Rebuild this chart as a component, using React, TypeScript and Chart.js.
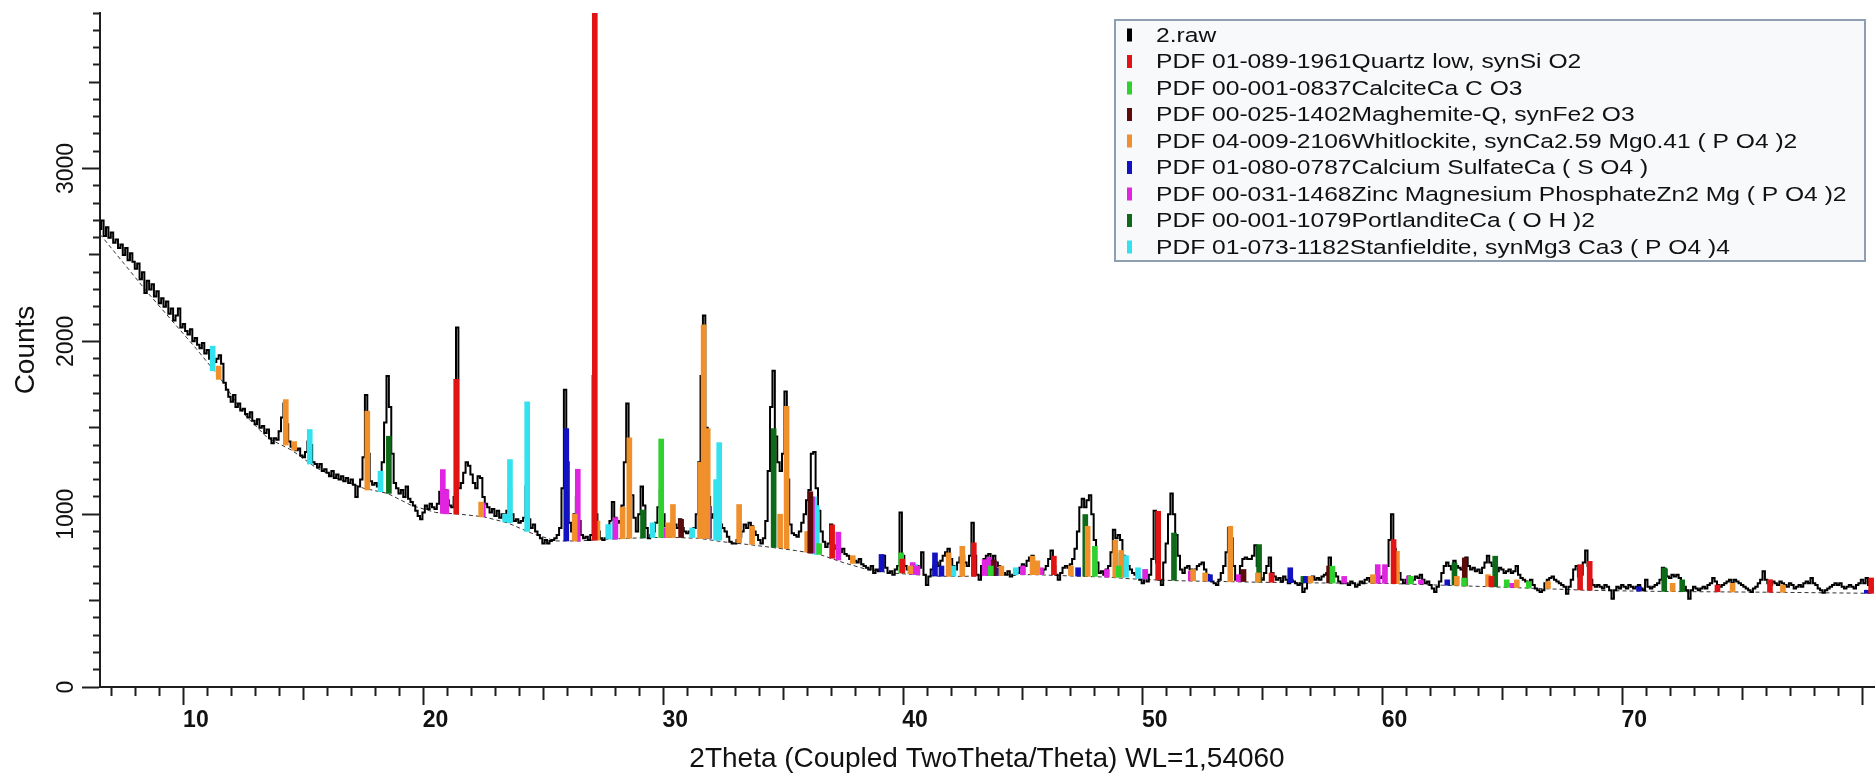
import React, { useEffect, useRef } from 'react';
import { Chart, registerables } from 'chart.js';

Chart.register(...registerables);

const FONT = '"Liberation Sans", Arial, Helvetica, sans-serif';

// ---- Measured pattern "2.raw" (counts), sampled every 0.1 deg 2Theta ----
const RAW_STEP = 0.1;
const RAW_06_20 = [
  2650, 2700, 2610, 2660, 2600, 2630, 2570, 2590, 2540, 2560,
  2500, 2540, 2470, 2510, 2460, 2420, 2450, 2360, 2400, 2280,
  2350, 2300, 2330, 2260, 2290, 2220, 2250, 2200, 2230, 2160,
  2190, 2120, 2150, 2190, 2080, 2100, 2060, 2040, 2070, 2000,
  2020, 1980, 1960, 1990, 1930, 1950, 1900, 1940, 1880, 1900,
  1920, 1870, 1760, 1720, 1680, 1650, 1690, 1620, 1640, 1600,
  1610, 1580, 1560, 1590, 1540, 1520, 1550, 1500, 1510, 1470,
  1490, 1440, 1410, 1440, 1430, 1480, 1560, 1640, 1520, 1420,
  1390, 1410, 1370, 1380, 1340, 1330, 1360, 1420, 1400, 1300,
  1290, 1270, 1290, 1250, 1260, 1240, 1220, 1250, 1210, 1230,
  1200, 1220, 1190, 1210, 1180, 1200, 1170, 1100, 1160, 1200,
  1330, 1690, 1350, 1190, 1170, 1180, 1160, 1200, 1300, 1530,
  1800, 1620, 1350, 1180, 1150, 1120, 1140, 1100, 1160, 1090,
  1070, 1050, 1020, 990, 970, 1010, 1050, 1030, 1060, 1040,
];
const RAW_20_30 = [
  1030, 1060, 1130, 1250, 1140, 1080, 1050, 1040, 1100, 2080,
  1150, 1180, 1240, 1300, 1280, 1230, 1180, 1150, 1220, 1210,
  1100, 1060, 1040, 1010, 1030, 990, 1020, 980, 1000, 960,
  1020, 1150, 1000, 960, 970, 950, 960, 980, 1160, 970,
  920, 940, 900, 880, 860, 830, 850, 830, 845, 850,
  860, 880, 920, 1150, 1720, 1300, 950, 900, 1000, 1100,
  960, 880, 860, 870, 850, 880, 1800, 1000, 900, 860,
  850, 860, 880, 960, 1070, 980, 950, 960, 1050, 1300,
  1640, 1380, 1110, 980, 900, 1000, 1160, 1050, 920, 860,
  880, 900, 950, 1040, 1140, 1000, 930, 920, 940, 960,
];
const RAW_30_40 = [
  940, 920, 970, 920, 900, 890, 900, 880, 920, 1000,
  1300, 1800, 2150, 1500, 1100, 980, 1000, 960, 1010, 940,
  920, 900, 870, 840, 830, 830, 850, 870, 900, 940,
  920, 950, 930, 900, 880, 850, 830, 860, 960, 1250,
  1620, 1830, 1450, 1300, 1250, 1350, 1710, 1200, 940, 890,
  880, 870, 900, 950, 1000, 1080, 1140, 1350, 1360, 1150,
  1020, 900, 840, 810, 830, 940, 820, 800, 790, 780,
  800, 770, 760, 740, 750, 730, 720, 740, 710, 700,
  690, 680, 700, 660, 680, 670, 700, 760, 690, 660,
  670, 650, 680, 700, 1010, 760, 700, 680, 660, 690,
];
const RAW_40_50 = [
  670, 700, 690, 780, 650, 590, 640, 680, 700, 720,
  700, 730, 760, 780, 800, 740, 700, 680, 720, 750,
  760, 720, 700, 760, 950, 760, 650, 620, 700, 740,
  760, 770, 740, 760, 720, 700, 680, 660, 650, 670,
  640, 650, 680, 660, 690, 710, 700, 730, 750, 760,
  720, 700, 680, 660, 680, 700, 740, 790, 700, 650,
  620, 660, 690, 700, 690, 710, 740, 800, 900, 1040,
  1090, 1040, 1080, 1110, 1000, 850, 720, 660, 670, 650,
  680, 700, 780, 910, 860, 880, 850, 760, 720, 700,
  680, 660, 650, 640, 620, 600, 640, 610, 650, 740,
];
const RAW_50_60 = [
  1020, 720, 620, 590, 720, 830, 1000, 1120, 1000, 880,
  760, 680, 660, 690, 700, 680, 660, 680, 700, 710,
  720, 680, 650, 640, 610, 600, 590, 620, 660, 700,
  780, 920, 860, 700, 620, 640, 700, 740, 750, 740,
  740, 760, 820, 700, 630, 620, 660, 700, 750, 660,
  640, 620, 630, 610, 640, 620, 600, 620, 610, 600,
  590, 600, 550, 570, 610, 630, 640, 620, 630, 620,
  640, 650, 660, 750, 680, 660, 640, 610, 600, 620,
  600, 590, 610, 600, 580, 590, 610, 600, 620, 630,
  610, 640, 620, 650, 630, 640, 660, 700, 850, 1000,
];
const RAW_60_70 = [
  800, 700, 660, 620, 600, 620, 640, 610, 620, 640,
  630, 650, 620, 600, 610, 590, 570, 550, 580, 610,
  660, 700, 720, 700, 680, 730, 700, 690, 680, 700,
  750, 700, 680, 690, 670, 680, 660, 690, 720, 760,
  720, 700, 680, 670, 690, 680, 660, 670, 680, 660,
  670, 700, 650, 630, 620, 610, 600, 620, 590, 570,
  560, 550, 560, 600, 620, 630, 640, 620, 610, 600,
  590, 580, 540, 580, 620, 680, 700, 640, 650, 720,
  790, 700, 620, 590, 580, 590, 580, 570, 590, 580,
  560, 510, 560, 580, 570, 590, 580, 570, 590, 580,
];
const RAW_70_80 = [
  570, 580, 590, 570, 560, 620, 580, 570, 580, 590,
  600, 620, 690, 680, 640, 630, 650, 640, 650, 630,
  600, 580, 560, 510, 560, 580, 570, 560, 570, 580,
  570, 590, 600, 630, 610, 590, 580, 590, 600, 610,
  620, 600, 620, 610, 600, 590, 580, 570, 560, 550,
  570, 580, 600, 620, 670, 620, 600, 590, 610, 600,
  590, 610, 600, 590, 580, 600, 590, 570, 580, 590,
  580, 600, 610, 600, 630, 600, 590, 570, 560, 545,
  560, 570, 580, 590, 600, 590, 600, 580, 570, 580,
  590, 580, 570, 590, 600, 620, 600, 630, 590, 570,
  580,
];
const RAW_SEGMENTS = [
  { start: 6, values: RAW_06_20 },
  { start: 20, values: RAW_20_30 },
  { start: 30, values: RAW_30_40 },
  { start: 40, values: RAW_40_50 },
  { start: 50, values: RAW_50_60 },
  { start: 60, values: RAW_60_70 },
  { start: 70, values: RAW_70_80 },
];

// ---- Fitted background under the reference sticks: [2Theta, counts] ----
const BACKGROUND = [
  [6, 2620], [7, 2450], [8, 2280], [9, 2120], [10, 1960], [11, 1790], [12, 1580],
  [13, 1440], [14, 1370], [15, 1270], [16, 1200], [17, 1150], [18, 1120], [19, 1050],
  [20, 1010], [21, 1000], [22, 985], [23, 950], [24, 890], [25, 845], [26, 845],
  [27, 855], [28, 860], [29, 865], [30, 865], [31, 860], [32, 840], [33, 825],
  [34, 808], [35, 790], [36, 768], [37, 720], [38, 680], [39, 660], [40, 650],
  [41, 641], [42, 640], [43, 645], [44, 650], [45, 650], [46, 645], [47, 640],
  [48, 636], [49, 626], [50, 620], [51, 615], [52, 612], [53, 610], [54, 607],
  [55, 605], [56, 603], [57, 602], [58, 601], [59, 600], [60, 598], [62, 589],
  [64, 580], [66, 570], [68, 560], [70, 555], [72, 552], [74, 550], [76, 548],
  [78, 545], [80, 542],
];

// ---- Reference sticks: [2Theta, base counts, top counts] ----
const QUARTZ = [
  [20.86, 1000, 1780], [26.64, 850, 3950], [36.54, 745, 938], [39.47, 660, 740],
  [42.45, 640, 834], [45.79, 650, 757], [50.14, 620, 1017], [54.87, 606, 660],
  [59.96, 598, 853], [64.04, 580, 640], [67.74, 562, 708], [68.14, 560, 727],
  [73.47, 551, 590], [75.66, 548, 621], [79.88, 542, 631],
];
const CALCITE = [
  [29.41, 865, 1435], [36.0, 768, 830], [39.42, 660, 776], [43.16, 645, 700],
  [47.5, 640, 814], [48.5, 636, 700], [57.41, 602, 699], [60.68, 597, 640],
  [62.9, 585, 630], [64.68, 577, 620], [65.6, 572, 610],
];
const MAGHEMITE = [
  [30.24, 865, 970], [35.63, 775, 1130], [43.28, 645, 735], [53.7, 610, 680],
  [57.27, 602, 700], [62.93, 585, 747],
];
const WHITLOCKITE = [
  [10.95, 1780, 1857], [13.75, 1400, 1663], [14.1, 1370, 1420], [17.15, 1140, 1596],
  [21.9, 985, 1070], [25.8, 845, 1000], [26.75, 850, 960], [27.8, 858, 1040],
  [28.08, 860, 1442], [29.7, 865, 950], [29.9, 865, 1056], [31.03, 860, 1300],
  [31.18, 860, 2095], [31.35, 860, 1495], [32.66, 835, 1056], [33.2, 825, 930],
  [34.37, 805, 1000], [34.64, 800, 1624], [35.5, 780, 900], [37.4, 715, 760],
  [39.8, 655, 700], [41.4, 640, 776], [41.97, 640, 814], [43.6, 646, 700],
  [44.9, 650, 757], [45.1, 650, 730], [46.5, 645, 700], [47.2, 640, 930],
  [48.35, 635, 849], [48.6, 635, 790], [51.6, 615, 680], [52.1, 613, 660],
  [53.15, 610, 930], [54.3, 607, 660], [56.5, 603, 640], [59.1, 600, 650],
  [60.1, 598, 785], [62.6, 588, 640], [63.9, 582, 650], [65.1, 575, 620],
  [66.4, 570, 610], [71.6, 553, 600], [74.1, 550, 600], [76.2, 548, 590],
];
const CALCIUM_SULFATE = [
  [25.45, 845, 1495], [31.4, 860, 1045], [38.6, 668, 767], [40.83, 642, 776],
  [41.1, 641, 700], [43.4, 645, 690], [46.8, 642, 690], [52.3, 612, 650],
  [55.65, 604, 690], [56.3, 603, 640], [62.2, 589, 620], [70.2, 555, 580],
  [79.7, 542, 560],
];
const ZN_MG_PHOSPHATE = [
  [20.3, 1005, 1258], [20.45, 1002, 1142], [21.97, 985, 1065], [25.93, 845, 1260],
  [27.5, 855, 980], [29.6, 865, 920], [35.7, 775, 1100], [36.8, 735, 896],
  [39.9, 652, 720], [40.1, 650, 700], [42.9, 645, 737], [43.1, 645, 750],
  [43.3, 645, 720], [44.5, 650, 700], [45.25, 650, 690], [48.0, 636, 680],
  [49.6, 625, 680], [51.5, 615, 670], [53.5, 610, 650], [57.9, 601, 640],
  [59.3, 600, 708], [59.6, 600, 708], [60.6, 598, 640], [61.1, 596, 620],
  [64.9, 576, 600],
];
const PORTLANDITE = [
  [18.05, 1120, 1451], [28.65, 862, 1024], [34.1, 808, 1495], [47.1, 640, 998],
  [50.8, 618, 891], [54.35, 607, 824], [56.2, 603, 640], [62.5, 590, 718],
  [64.2, 580, 757], [71.25, 553, 689], [72.0, 552, 620],
];
const STANFIELDITE = [
  [10.7, 1830, 1972], [14.75, 1290, 1490], [17.7, 1130, 1249], [22.9, 955, 1000],
  [23.1, 950, 1316], [23.82, 900, 1650], [27.2, 856, 940], [27.45, 855, 960],
  [29.05, 865, 950], [30.7, 865, 920], [31.7, 850, 1200], [31.83, 850, 1414],
  [35.8, 770, 1100], [35.9, 768, 1050], [40.0, 650, 710], [41.6, 641, 700],
  [44.2, 650, 690], [48.6, 635, 776], [48.8, 635, 760], [49.3, 628, 690],
  [49.6, 625, 680],
];

const RAW_LABEL = '2.raw';
const RAW_COLOR = '#000000';
const PHASES = [
  { label: 'PDF 01-089-1961Quartz low, synSi O2', color: '#e01414', sticks: QUARTZ },
  { label: 'PDF 00-001-0837CalciteCa C O3', color: '#2fd12f', sticks: CALCITE },
  { label: 'PDF 00-025-1402Maghemite-Q, synFe2 O3', color: '#5c0b0b', sticks: MAGHEMITE },
  { label: 'PDF 04-009-2106Whitlockite, synCa2.59 Mg0.41 ( P O4 )2', color: '#f0902c', sticks: WHITLOCKITE },
  { label: 'PDF 01-080-0787Calcium SulfateCa ( S O4 )', color: '#1212c2', sticks: CALCIUM_SULFATE },
  { label: 'PDF 00-031-1468Zinc Magnesium PhosphateZn2 Mg ( P O4 )2', color: '#e024e0', sticks: ZN_MG_PHOSPHATE },
  { label: 'PDF 00-001-1079PortlanditeCa ( O H )2', color: '#0d6a18', sticks: PORTLANDITE },
  { label: 'PDF 01-073-1182Stanfieldite, synMg3 Ca3 ( P O4 )4', color: '#33e2ef', sticks: STANFIELDITE },
];

const X_MIN = 6;
const X_MAX = 80;
const Y_MIN = 0;
const Y_MAX = 3900;
const X_LABELS = [10, 20, 30, 40, 50, 60, 70];
const Y_LABELS = [0, 1000, 2000, 3000];
const X_TITLE = '2Theta (Coupled TwoTheta/Theta) WL=1,54060';
const Y_TITLE = 'Counts';

const legendPlugin = {
  id: 'phaseLegend',
  afterDraw(chart: any) {
    const ctx = chart.ctx as CanvasRenderingContext2D;
    const items = chart.data.datasets.filter((d: any) => d.legendColor);
    const left = 1115;
    const top = 20;
    const width = 750;
    const rowH = 26.5;
    const height = 15 + (items.length - 1) * rowH + 14;
    ctx.save();
    ctx.fillStyle = '#f8f9fb';
    ctx.fillRect(left, top, width, height);
    ctx.strokeStyle = '#8e9eb3';
    ctx.lineWidth = 2;
    ctx.strokeRect(left, top, width, height);
    ctx.font = `20.5px ${FONT}`;
    ctx.textBaseline = 'middle';
    ctx.textAlign = 'left';
    items.forEach((d: any, i: number) => {
      const cy = top + 15 + i * rowH;
      ctx.fillStyle = d.legendColor;
      ctx.fillRect(left + 12, cy - 6.5, 5, 13);
      ctx.save();
      ctx.translate(left + 41, cy + 1);
      ctx.scale(1.2, 1);
      ctx.fillStyle = '#111111';
      ctx.fillText(d.label, 0, 0);
      ctx.restore();
    });
    ctx.restore();
  },
};

function isWhole(v: number) {
  return Math.abs(v - Math.round(v)) < 1e-6;
}

function tickValue(c: any): number | null {
  if (!c || !c.tick || typeof c.tick.value !== 'number') return null;
  return Math.round(c.tick.value);
}

export default function App() {
  const canvasRef = useRef<HTMLCanvasElement | null>(null);

  useEffect(() => {
    const canvas = canvasRef.current;
    if (!canvas) return;

    const rawPoints: { x: number; y: number }[] = [];
    RAW_SEGMENTS.forEach((seg) => {
      seg.values.forEach((v, i) => {
        rawPoints.push({ x: Math.round((seg.start + i * RAW_STEP) * 100) / 100, y: v });
      });
    });

    const datasets: any[] = [
      {
        type: 'line',
        label: RAW_LABEL,
        legendColor: RAW_COLOR,
        data: rawPoints,
        borderColor: RAW_COLOR,
        borderWidth: 2,
        pointRadius: 0,
        stepped: 'middle',
        order: 2,
      },
      {
        type: 'line',
        label: 'Background',
        data: BACKGROUND.map(([x, y]) => ({ x, y })),
        borderColor: '#333333',
        borderWidth: 1,
        borderDash: [4, 3],
        pointRadius: 0,
        order: 3,
      },
      ...PHASES.map((p) => ({
        type: 'bar',
        label: p.label,
        legendColor: p.color,
        data: p.sticks.map(([x, lo, hi]) => ({ x, y: [lo, hi] })),
        backgroundColor: p.color,
        borderWidth: 0,
        barThickness: 5,
        grouped: false,
        order: 1,
      })),
    ];

    const axisColor = '#1e1e1e';
    const chart = new Chart(canvas, {
      type: 'bar',
      data: { datasets },
      plugins: [legendPlugin],
      options: {
        animation: false,
        responsive: false,
        events: [],
        layout: { padding: { top: 13, right: 0, left: 0, bottom: 0 } },
        plugins: {
          legend: { display: false },
          tooltip: { enabled: false },
        },
        scales: {
          x: {
            type: 'linear',
            min: X_MIN,
            max: X_MAX,
            offset: false,
            afterFit: (s: any) => {
              s.height = 93;
            },
            border: { color: axisColor, width: 2 },
            grid: {
              drawOnChartArea: false,
              drawTicks: true,
              tickLength: 18,
              tickWidth: 2,
              tickColor: axisColor,
              tickBorderDash: (c: any) => {
                const v = tickValue(c);
                if (v === null || v % 10 === 0) return [];
                if (v % 5 === 0) return [12, 40];
                return [8, 40];
              },
            },
            ticks: {
              stepSize: 1,
              autoSkip: false,
              maxRotation: 0,
              minRotation: 0,
              padding: 2,
              color: '#111111',
              font: { family: FONT, size: 23, weight: 'bold' },
              callback: (v: any) => (isWhole(v) && X_LABELS.includes(Math.round(v)) ? String(Math.round(v)) : ''),
            },
            title: {
              display: true,
              text: X_TITLE,
              color: '#111111',
              font: { family: FONT, size: 28 },
              padding: { top: 0, bottom: 4 },
            },
          },
          y: {
            type: 'linear',
            min: Y_MIN,
            max: Y_MAX,
            afterFit: (s: any) => {
              s.width = 100;
            },
            border: { color: axisColor, width: 2 },
            grid: {
              drawOnChartArea: false,
              drawTicks: true,
              tickLength: 18,
              tickWidth: 2,
              tickColor: axisColor,
              tickBorderDash: (c: any) => {
                const v = tickValue(c);
                if (v === null || v % 1000 === 0) return [];
                if (v % 500 === 0) return [0, 7, 11, 40];
                return [0, 11, 7, 40];
              },
            },
            ticks: {
              stepSize: 100,
              autoSkip: false,
              minRotation: 90,
              maxRotation: 90,
              crossAlign: 'center',
              padding: -10,
              color: '#111111',
              font: { family: FONT, size: 23 },
              callback: (v: any) => (isWhole(v) && Y_LABELS.includes(Math.round(v)) ? String(Math.round(v)) : ''),
            },
            title: {
              display: true,
              text: Y_TITLE,
              color: '#111111',
              font: { family: FONT, size: 28 },
              padding: { top: 9, bottom: 0 },
            },
          },
        },
      } as any,
    });

    return () => {
      chart.destroy();
    };
  }, []);

  return (
    <div style={{ position: 'fixed', left: 0, top: 0, width: 1876, height: 780, background: '#ffffff' }}>
      <canvas ref={canvasRef} width={1876} height={780} style={{ display: 'block', width: 1876, height: 780 }} />
    </div>
  );
}
